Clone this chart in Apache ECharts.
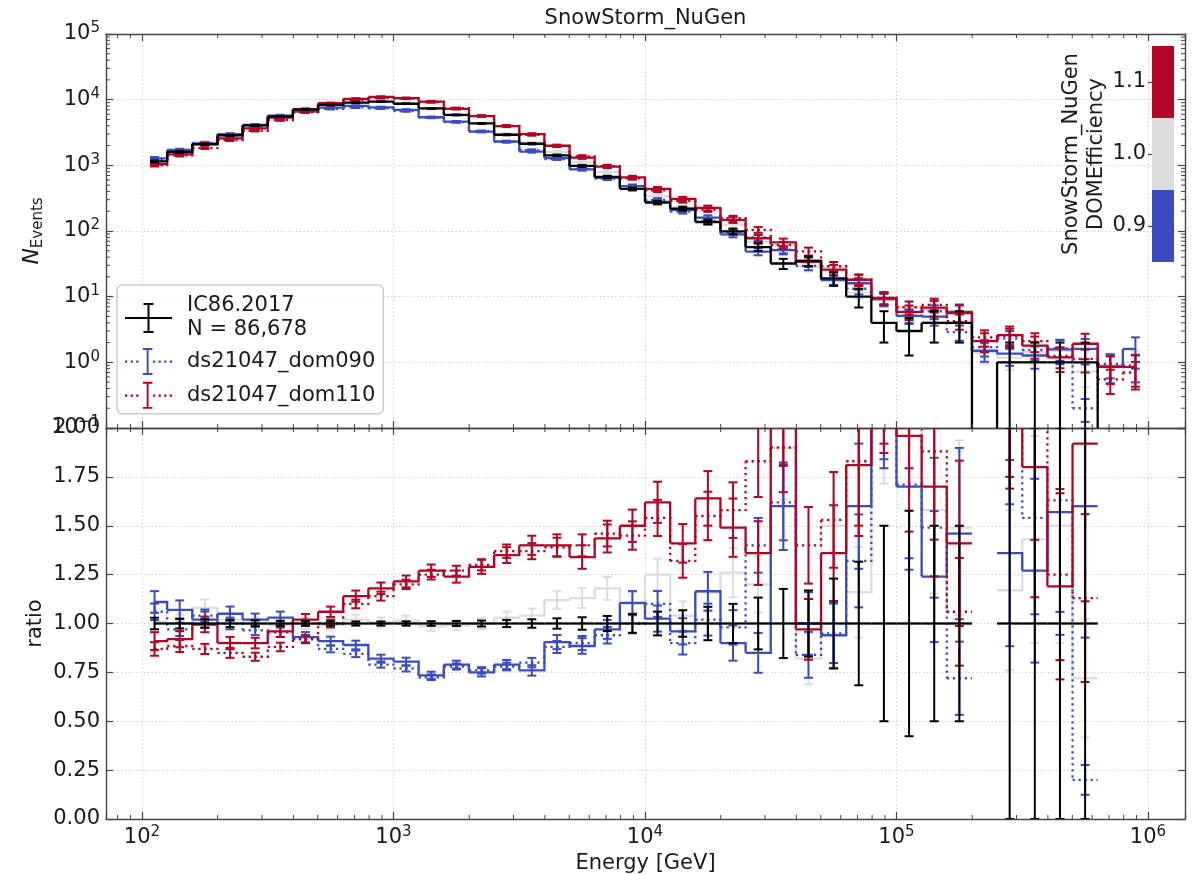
<!DOCTYPE html>
<html>
<head>
<meta charset="utf-8">
<script src="https://cdn.jsdelivr.net/npm/echarts@6/dist/echarts.min.js"></script>
<style>
  html, body { margin: 0; padding: 0; background: #ffffff; }
  #chart { width: 1198px; height: 875px; }
</style>
</head>
<body>
<div id="chart"></div>
<script>
// ---- Binning: centres of the energy bins, log10(E / GeV) ----
const binCentreExp = [2.05, 2.15, 2.25, 2.35, 2.45, 2.55, 2.65, 2.75, 2.85, 2.95,
                      3.05, 3.15, 3.25, 3.35, 3.45, 3.55, 3.65, 3.75, 3.85, 3.95,
                      4.05, 4.15, 4.25, 4.35, 4.45, 4.55, 4.65, 4.75, 4.85, 4.95,
                      5.05, 5.15, 5.25, 5.35, 5.45, 5.55, 5.65, 5.75, 5.85, 5.95];

// ---- Experimental data IC86.2017: event counts and statistical errors ----
const dataCounts = [1150, 1600, 2100, 2850, 4050, 5550, 7050, 8316, 9020, 9320,
                    8670, 7350, 5850, 4350, 2920, 2130, 1420, 980, 666, 438,
                    271, 219, 137, 99, 57, 32, 35, 19, 10, 4,
                    3, 4, 4, 0, 1, 1, 1, 1, 0, 0];
const dataErr = [33.9, 40.0, 45.8, 53.4, 63.6, 74.5, 84.0, 91.2, 95.0, 96.5,
                 93.1, 85.7, 76.5, 66.0, 54.0, 46.2, 37.7, 31.3, 25.8, 20.9,
                 16.5, 14.8, 11.7, 9.95, 7.55, 5.66, 5.92, 4.36, 3.16, 2.0,
                 1.73, 2.0, 2.0, 0, 1, 1, 1, 1, 0, 0];

// ---- Simulation / data ratios (bins where data are non-empty) ----
// SnowStorm_NuGen weighted to DOMEfficiency 1.0, 0.9 and 1.1
const ratioDom100 = [1.01, 1.00, 1.08, 1.02, 1.00, 0.99, 1.00, 0.995, 1.02, 1.005,
                     1.015, 0.985, 0.99, 1.00, 1.03, 1.04, 1.12, 1.13, 1.18, 1.10,
                     1.25, 1.04, 1.16, 1.26, 1.20, 1.90, 0.82, 1.50, 1.16, 2.2,
                     2.3, 1.58, 1.49, null, 1.17, 1.43, 1.50, 0.72, null, null];
const ratioDom090 = [1.11, 1.07, 1.02, 1.05, 1.02, 1.03, 0.93, 0.91, 0.89, 0.82,
                     0.805, 0.735, 0.79, 0.75, 0.79, 0.76, 0.905, 0.885, 0.97, 1.105,
                     1.025, 0.96, 1.165, 0.90, 0.85, 1.60, 1.00, 0.94, 1.60, 2.3,
                     1.70, 1.24, 1.46, null, 1.36, 1.27, 1.57, 1.60, null, null];
const ratioDom110 = [0.91, 0.92, 0.995, 0.90, 0.90, 0.96, 1.02, 1.06, 1.14, 1.18,
                     1.215, 1.27, 1.24, 1.29, 1.35, 1.40, 1.40, 1.34, 1.435, 1.50,
                     1.62, 1.41, 1.64, 1.49, 1.36, 2.10, 0.97, 1.36, 1.81, 2.4,
                     1.96, 1.70, 1.41, null, 2.6, 1.80, 1.19, 1.92, null, null];
// Dedicated datasets ds21047 at DOMEfficiency 0.9 and 1.1
const ratioDs090 = [1.06, 0.97, 1.04, 1.00, 0.965, 0.955, 0.92, 0.87, 0.845, 0.79,
                    0.77, 0.725, 0.78, 0.76, 0.78, 0.80, 0.88, 0.90, 0.94, 1.00,
                    1.10, 0.90, 1.02, 0.98, 1.40, 1.62, 0.84, 0.95, 1.32, 2.3,
                    1.71, 1.49, 0.72, null, 2.3, 1.54, 1.63, 0.20, null, null];
const ratioDs110 = [0.87, 0.885, 0.87, 0.85, 0.83, 0.88, 0.92, 1.00, 1.10, 1.14,
                    1.20, 1.25, 1.27, 1.30, 1.37, 1.37, 1.39, 1.40, 1.46, 1.45,
                    1.54, 1.32, 1.55, 1.58, 1.83, 1.90, 1.40, 1.53, 1.83, 2.4,
                    2.3, 1.88, 1.06, null, 2.5, 2.1, 1.25, 1.13, null, null];

// ---- Expected counts in bins without data events ----
const tailBins = [33, 38, 39];
const tailDom100 = [1.4, 0.9, 1.0];
const tailDom090 = [1.5, 0.87, 1.6];
const tailDom110 = [2.1, 0.85, 0.85];
const tailDs090 = [1.7, 0.95, 0.9];
const tailDs110 = [2.4, 0.55, 0.7];

// ---- Relative statistical errors of the simulation ----
const relErrSnow = [0.05, 0.045, 0.04, 0.035, 0.03, 0.03, 0.028, 0.025, 0.025, 0.025,
                    0.025, 0.025, 0.025, 0.028, 0.03, 0.035, 0.04, 0.045, 0.05, 0.055,
                    0.065, 0.07, 0.085, 0.10, 0.12, 0.14, 0.16, 0.18, 0.20, 0.22,
                    0.25, 0.27, 0.30, 0.32, 0.35, 0.37, 0.40, 0.42, 0.45, 0.50];
const relErrDs = [0.04, 0.035, 0.03, 0.03, 0.025, 0.025, 0.022, 0.02, 0.02, 0.02,
                  0.02, 0.02, 0.02, 0.022, 0.025, 0.03, 0.035, 0.04, 0.045, 0.05,
                  0.06, 0.065, 0.08, 0.09, 0.10, 0.12, 0.14, 0.16, 0.18, 0.20,
                  0.22, 0.24, 0.26, 0.28, 0.30, 0.32, 0.35, 0.38, 0.40, 0.45];

// ---- Colour bar: DOMEfficiency levels ----
const domEffLevels = [0.9, 1.0, 1.1];
const domEffColors = ['#3b4cc0', '#dddddd', '#b40426'];

// ---- Axis ranges ----
const xRange = [71.93, 1.4033e6];
const yCountRange = [0.1, 1e5];
const yRatioRange = [0, 2];

// ---------------------------------------------------------------
const BLUE = domEffColors[0], GREY = domEffColors[1], RED = domEffColors[2];
const TXT = '#1a1a1a', FRAME = '#444444';
const nBins = binCentreExp.length;
const binE = binCentreExp.map(e => Math.pow(10, e));
const nTotal = dataCounts.reduce((a, b) => a + b, 0);

function mcCounts(ratio, tail) {
  return dataCounts.map((d, i) => {
    const t = tailBins.indexOf(i);
    if (t >= 0) return tail[t];
    return ratio[i] == null ? null : d * ratio[i];
  });
}
function scaled(vals, rel) { return vals.map((v, i) => v == null ? 0 : v * rel[i]); }

const cntDom100 = mcCounts(ratioDom100, tailDom100);
const cntDom090 = mcCounts(ratioDom090, tailDom090);
const cntDom110 = mcCounts(ratioDom110, tailDom110);
const cntDs090 = mcCounts(ratioDs090, tailDs090);
const cntDs110 = mcCounts(ratioDs110, tailDs110);
const ratioData = dataCounts.map(d => d > 0 ? 1 : null);
const ratioDataErr = dataCounts.map((d, i) => d > 0 ? dataErr[i] / d : 0);

// Step histogram (steps through the bin centres) with error bars
function histSeries(o) {
  return {
    type: 'custom',
    name: o.name,
    xAxisIndex: o.xAxisIndex,
    yAxisIndex: o.yAxisIndex,
    z: o.z,
    clip: true,
    silent: true,
    itemStyle: { color: o.color },
    data: binE.map((e, i) => [e, 1, i]),
    encode: { x: 0, y: 1 },
    renderItem: function (params, api) {
      const i = api.value(2);
      const vals = o.values;
      const v = vals[i];
      const children = [];
      if (v == null) return { type: 'group', children: children };
      const safe = val => o.logY ? (val > 0 ? val : 1e-4) : val;
      const px = j => api.coord([binE[j], 1])[0];
      const py = val => api.coord([binE[i], safe(val)])[1];
      const xc = px(i);
      const xl = i > 0 ? (px(i - 1) + xc) / 2 : xc;
      const xr = i < nBins - 1 ? (xc + px(i + 1)) / 2 : xc;
      const y = py(v);
      const pts = [[xl, y], [xr, y]];
      if (i < nBins - 1 && vals[i + 1] != null) pts.push([xr, py(vals[i + 1])]);
      children.push({
        type: 'polyline',
        shape: { points: pts },
        style: { stroke: o.color, lineWidth: 2.3, fill: null, lineDash: o.dotted ? [2.3, 3.7] : null }
      });
      const e = o.errs ? o.errs[i] : 0;
      if (e > 0) {
        const yl = py(v - e), yh = py(v + e), cw = 4.5;
        const es = { stroke: o.color, lineWidth: 2, fill: null };
        children.push({ type: 'line', shape: { x1: xc, y1: yl, x2: xc, y2: yh }, style: es });
        children.push({ type: 'line', shape: { x1: xc - cw, y1: yl, x2: xc + cw, y2: yl }, style: es });
        children.push({ type: 'line', shape: { x1: xc - cw, y1: yh, x2: xc + cw, y2: yh }, style: es });
      }
      return { type: 'group', children: children };
    }
  };
}

// Minor ticks of the logarithmic axes, drawn on both sides of a panel
function minorTickSeries(xIdx, yIdx, dir, values, ref) {
  return {
    type: 'custom',
    xAxisIndex: xIdx,
    yAxisIndex: yIdx,
    silent: true,
    z: 10,
    data: values.map(v => dir === 'x' ? [v, ref] : [ref, v]),
    encode: { x: 0, y: 1 },
    renderItem: function (params, api) {
      const cs = params.coordSys;
      const st = { stroke: FRAME, lineWidth: 1, fill: null };
      const p = api.coord([api.value(0), api.value(1)]);
      const L = 4;
      if (dir === 'x') {
        const b = cs.y + cs.height, t = cs.y;
        return { type: 'group', children: [
          { type: 'line', shape: { x1: p[0], y1: b, x2: p[0], y2: b - L }, style: st },
          { type: 'line', shape: { x1: p[0], y1: t, x2: p[0], y2: t + L }, style: st }
        ] };
      }
      const l = cs.x, r = cs.x + cs.width;
      return { type: 'group', children: [
        { type: 'line', shape: { x1: l, y1: p[1], x2: l + L, y2: p[1] }, style: st },
        { type: 'line', shape: { x1: r, y1: p[1], x2: r - L, y2: p[1] }, style: st }
      ] };
    }
  };
}
function minorLogValues(range) {
  const out = [];
  for (let d = -3; d <= 8; d++) {
    for (let m = 2; m <= 9; m++) {
      const v = m * Math.pow(10, d);
      if (v > range[0] && v < range[1]) out.push(v);
    }
  }
  return out;
}

const supDigits = s => s.replace('-', '\u2212');
function powLabel(v) {
  const e = Math.log10(v);
  const r = Math.round(e);
  if (Math.abs(e - r) > 1e-6) return '';
  return '{b|10}{s|' + supDigits(String(r)) + '}';
}
const powRich = {
  b: { fontSize: 21, lineHeight: 26, color: TXT, fontFamily: 'DejaVu Sans' },
  s: { fontSize: 15, lineHeight: 12, verticalAlign: 'top', color: TXT, fontFamily: 'DejaVu Sans' }
};

const frameLine = { show: true, onZero: false, lineStyle: { color: FRAME, width: 1.4 } };
const tickIn = { show: true, inside: true, length: 7, lineStyle: { color: FRAME, width: 1.2 } };
const gridDots = { show: true, lineStyle: { color: '#c8c8c8', width: 1, type: [1.2, 2.6] } };
const noLabel = { show: false };

// Legend icons: line with an error bar (solid or dotted)
const iconSolid = 'path://M0 14H47V16H0Z M22.5 1H24.5V29H22.5Z M18.5 0H28.5V2H18.5Z M18.5 28H28.5V30H18.5Z';
function dottedIcon() {
  let p = 'path://';
  for (let x = 0; x < 47; x += 5.8) {
    if (x > 16 && x < 29) continue;
    p += 'M' + x.toFixed(1) + ' 14h2.4v2.4h-2.4Z ';
  }
  p += 'M22.5 2H24.5V28H22.5Z M18.5 1H28.5V3H18.5Z M18.5 27H28.5V29H18.5Z M0 0H0.01V30H0Z M46.99 0H47V30H46.99Z';
  return p;
}
const iconDotted = dottedIcon();

const chart = echarts.init(document.getElementById('chart'), null, { renderer: 'canvas' });

const series = [];
// Upper panel: event counts
series.push(histSeries({ xAxisIndex: 0, yAxisIndex: 0, logY: true, values: cntDom100, errs: scaled(cntDom100, relErrSnow), color: GREY, z: 2 }));
series.push(histSeries({ xAxisIndex: 0, yAxisIndex: 0, logY: true, values: cntDom090, errs: scaled(cntDom090, relErrSnow), color: BLUE, z: 3 }));
series.push(histSeries({ name: 'ds21047_dom090', xAxisIndex: 0, yAxisIndex: 0, logY: true, values: cntDs090, errs: scaled(cntDs090, relErrDs), color: BLUE, dotted: true, z: 4 }));
series.push(histSeries({ name: 'ds21047_dom110', xAxisIndex: 0, yAxisIndex: 0, logY: true, values: cntDs110, errs: scaled(cntDs110, relErrDs), color: RED, dotted: true, z: 5 }));
series.push(histSeries({ xAxisIndex: 0, yAxisIndex: 0, logY: true, values: cntDom110, errs: scaled(cntDom110, relErrSnow), color: RED, z: 6 }));
series.push(histSeries({ name: 'IC86.2017', xAxisIndex: 0, yAxisIndex: 0, logY: true, values: dataCounts, errs: dataErr, color: '#000000', z: 7 }));
// Lower panel: ratio to data
series.push(histSeries({ xAxisIndex: 2, yAxisIndex: 2, values: ratioDom100, errs: scaled(ratioDom100, relErrSnow), color: GREY, z: 2 }));
series.push(histSeries({ xAxisIndex: 2, yAxisIndex: 2, values: ratioDom090, errs: scaled(ratioDom090, relErrSnow), color: BLUE, z: 3 }));
series.push(histSeries({ name: 'ds21047_dom090', xAxisIndex: 2, yAxisIndex: 2, values: ratioDs090, errs: scaled(ratioDs090, relErrDs), color: BLUE, dotted: true, z: 4 }));
series.push(histSeries({ name: 'ds21047_dom110', xAxisIndex: 2, yAxisIndex: 2, values: ratioDs110, errs: scaled(ratioDs110, relErrDs), color: RED, dotted: true, z: 5 }));
series.push(histSeries({ xAxisIndex: 2, yAxisIndex: 2, values: ratioDom110, errs: scaled(ratioDom110, relErrSnow), color: RED, z: 6 }));
series.push(histSeries({ name: 'IC86.2017', xAxisIndex: 2, yAxisIndex: 2, values: ratioData, errs: ratioDataErr, color: '#000000', z: 7 }));
// Minor ticks
series.push(minorTickSeries(0, 0, 'x', minorLogValues(xRange), 1));
series.push(minorTickSeries(0, 0, 'y', minorLogValues(yCountRange), 1000));
series.push(minorTickSeries(2, 2, 'x', minorLogValues(xRange), 1));
// Colour bar blocks
series.push({
  type: 'custom',
  xAxisIndex: 4,
  yAxisIndex: 4,
  silent: true,
  z: 8,
  data: domEffLevels.map((lv, i) => [0, lv, i]),
  encode: { x: 0, y: 1 },
  renderItem: function (params, api) {
    const i = api.value(2);
    const lv = domEffLevels[i];
    const half = 0.05;
    const p0 = api.coord([0, lv + half]);
    const p1 = api.coord([1, lv - half]);
    return { type: 'rect', shape: { x: p0[0], y: p0[1], width: p1[0] - p0[0], height: p1[1] - p0[1] },
             style: { fill: domEffColors[i] } };
  }
});

const option = {
  animation: false,
  backgroundColor: '#ffffff',
  textStyle: { fontFamily: 'DejaVu Sans', color: TXT },
  grid: [
    { left: 106, top: 34, width: 1079, height: 394 },
    { left: 106, top: 428, width: 1079, height: 393 },
    { left: 1152, top: 46, width: 22, height: 216 }
  ],
  xAxis: [
    { type: 'log', gridIndex: 0, position: 'bottom', min: xRange[0], max: xRange[1], axisLine: frameLine, axisTick: tickIn, axisLabel: noLabel, splitLine: gridDots },
    { type: 'log', gridIndex: 0, position: 'top', min: xRange[0], max: xRange[1], axisLine: frameLine, axisTick: tickIn, axisLabel: noLabel, splitLine: { show: false } },
    { type: 'log', gridIndex: 1, position: 'bottom', min: xRange[0], max: xRange[1], axisLine: frameLine, axisTick: tickIn,
      axisLabel: { formatter: powLabel, rich: powRich, margin: 6, showMinLabel: true, showMaxLabel: true },
      splitLine: gridDots,
      name: 'Energy [GeV]', nameLocation: 'middle', nameGap: 34, nameTextStyle: { fontSize: 21, color: TXT } },
    { type: 'log', gridIndex: 1, position: 'top', min: xRange[0], max: xRange[1], axisLine: frameLine, axisTick: tickIn, axisLabel: noLabel, splitLine: { show: false } },
    { type: 'value', gridIndex: 2, min: 0, max: 1, show: false }
  ],
  yAxis: [
    { type: 'log', gridIndex: 0, position: 'left', min: yCountRange[0], max: yCountRange[1], axisLine: frameLine, axisTick: tickIn,
      axisLabel: { formatter: powLabel, rich: powRich, margin: 6 },
      splitLine: gridDots,
      name: '{n|N}{s|Events}', nameLocation: 'middle', nameGap: 60, nameRotate: 90, nameMoveOverlap: false,
      nameTextStyle: { rich: {
        n: { fontSize: 22, fontStyle: 'italic', lineHeight: 28, color: TXT, fontFamily: 'DejaVu Sans' },
        s: { fontSize: 15, lineHeight: 14, verticalAlign: 'bottom', color: TXT, fontFamily: 'DejaVu Sans' }
      } } },
    { type: 'log', gridIndex: 0, position: 'right', min: yCountRange[0], max: yCountRange[1], axisLine: frameLine, axisTick: tickIn, axisLabel: noLabel, splitLine: { show: false } },
    { type: 'value', gridIndex: 1, position: 'left', min: yRatioRange[0], max: yRatioRange[1], interval: 0.25, axisLine: frameLine, axisTick: tickIn,
      axisLabel: { formatter: v => v.toFixed(2), fontSize: 21, color: TXT, margin: 6 },
      splitLine: gridDots,
      name: 'ratio', nameLocation: 'middle', nameGap: 60, nameRotate: 90, nameMoveOverlap: false,
      nameTextStyle: { fontSize: 21, color: TXT } },
    { type: 'value', gridIndex: 1, position: 'right', min: yRatioRange[0], max: yRatioRange[1], interval: 0.25, axisLine: frameLine, axisTick: tickIn, axisLabel: noLabel, splitLine: { show: false } },
    { type: 'value', gridIndex: 2, position: 'left', min: 0.85, max: 1.15,
      axisLine: { show: false },
      axisTick: { show: true, inside: false, length: 4, customValues: domEffLevels, lineStyle: { color: FRAME, width: 1.2 } },
      axisLabel: { customValues: domEffLevels, formatter: v => v.toFixed(1), fontSize: 21, color: TXT, margin: 6 },
      splitLine: { show: false },
      name: 'SnowStorm_NuGen\nDOMEfficiency', nameLocation: 'middle', nameGap: 42, nameRotate: 90,
      nameTextStyle: { fontSize: 21, lineHeight: 25, color: TXT } }
  ],
  legend: {
    left: 117, top: 285,
    orient: 'vertical',
    align: 'left',
    itemWidth: 47, itemHeight: 30, itemGap: 5,
    padding: [9, 8, 4, 8],
    backgroundColor: 'rgba(255,255,255,0.85)',
    borderColor: '#cccccc', borderWidth: 1.5, borderRadius: 5,
    textStyle: { fontSize: 21, lineHeight: 24, color: TXT, fontFamily: 'DejaVu Sans', padding: [0, 0, 0, 10] },
    selectedMode: false,
    formatter: name => name === 'IC86.2017' ? 'IC86.2017\nN = ' + nTotal.toLocaleString('en-US') : name,
    data: [
      { name: 'IC86.2017', icon: iconSolid },
      { name: 'ds21047_dom090', icon: iconDotted },
      { name: 'ds21047_dom110', icon: iconDotted }
    ],
    z: 20
  },
  graphic: [
    { type: 'text', x: 645.5, y: 19, z: 20,
      style: { text: 'SnowStorm_NuGen', fontSize: 21, fill: TXT, fontFamily: 'DejaVu Sans', textAlign: 'center', textVerticalAlign: 'middle' } }
  ],
  series: series
};
chart.setOption(option);
</script>
</body>
</html>
